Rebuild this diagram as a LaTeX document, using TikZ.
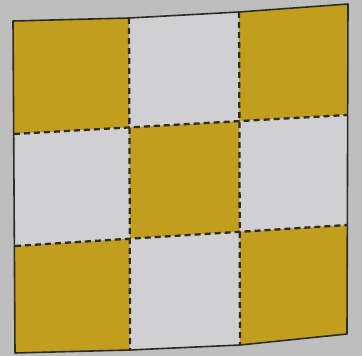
\documentclass[tikz,border=0pt]{standalone}
\usepackage{xcolor}
\definecolor{paperBack}{HTML}{BEBEBE}
\definecolor{cellYellow}{HTML}{C29E1E}
\definecolor{cellGray}{HTML}{D0D0D2}
\definecolor{inkLine}{HTML}{2E2A26}
\usetikzlibrary{calc}
\tikzset{
    foldline/.style={inkLine, line width=2.3pt, dash pattern=on 6pt off 4pt},
    rimline/.style={inkLine, line width=1.6pt, line join=round},
}

\begin{document}
\begin{tikzpicture}[x=1pt, y=-1pt]
% --- paper behind the sheet ---
\fill[paperBack] (0,0) rectangle (362,356);
\useasboundingbox (0,0) rectangle (362,356);

% --- grid points (column, row) ---
\coordinate (g00) at (13,21);    \coordinate (g10) at (129,18);
\coordinate (g20) at (239,12);   \coordinate (g30) at (348,4);
\coordinate (g01) at (14,134);   \coordinate (g11) at (129.4,127.4);
\coordinate (g21) at (239.4,121.1); \coordinate (g31) at (347,115);
\coordinate (g02) at (15,246);   \coordinate (g12) at (129.8,238.7);
\coordinate (g22) at (239.7,231.8); \coordinate (g32) at (347,225);
\coordinate (g03) at (15,353);   \coordinate (g13) at (130,350);
\coordinate (g23) at (240,345);  \coordinate (g33) at (347,334);

% --- cells ---
\foreach \i in {0,1,2}{
  \foreach \j in {0,1,2}{
    \pgfmathtruncatemacro\ii{\i+1}
    \pgfmathtruncatemacro\jj{\j+1}
    \pgfmathtruncatemacro\odd{mod(\i+\j,2)}
    \ifnum\odd=0 \def\cellcol{cellYellow}\else \def\cellcol{cellGray}\fi
    \fill[\cellcol] (g\i\j) -- (g\ii\j) -- (g\ii\jj) -- (g\i\jj) -- cycle;
  }
}

% --- dashed folds ---
\draw[foldline] (g10) -- (g11) -- (g12) -- (g13);
\draw[foldline] (g20) -- (g21) -- (g22) -- (g23);
\draw[foldline] (g01) -- (g11) -- (g21) -- (g31);
\draw[foldline] (g02) -- (g12) -- (g22) -- (g32);

% --- outer rim ---
\draw[rimline] (g00) -- (g10) -- (g20) -- (g30) -- (g33) -- (g23)
    -- (g13) -- (g03) -- cycle;
\end{tikzpicture}
\end{document}
